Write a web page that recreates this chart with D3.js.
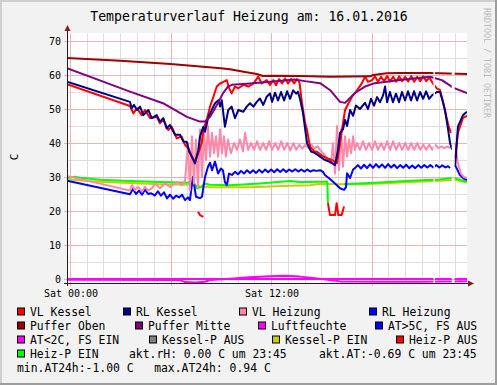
<!DOCTYPE html>
<html><head><meta charset="utf-8">
<script src="https://d3js.org/d3.v7.min.js"></script>
<style>body{margin:0;background:#fff}svg{display:block}text{font-family:"DejaVu Sans Mono",monospace}</style>
</head><body><svg id="c" width="497" height="385"></svg>
<script>
// ---------------- data ----------------
const title = "Temperaturverlauf Heizung am: 16.01.2016";
const yLabel = "C";
const yTicks = [0, 10, 20, 30, 40, 50, 60, 70];
const yMinorTicks = [5, 15, 25, 35, 45, 55, 65];
const xTickHours = [0, 12];           // labelled ticks (hours after Sat 00:00)
const xTickLabels = ["Sat 00:00", "Sat 12:00"];
const gapHours = [[21.70, 21.79], [22.79, 22.96]];

const vlKessel = [[-0.18,57.3],[3.58,50.9],[3.78,48.7],[4.0,50.2],[4.28,48.2],[4.48,49.7],[4.78,47.3],[5.18,47.7],[5.37,45.8],[5.57,46.8],[5.87,43.8],[6.07,44.8],[6.37,41.4],[6.67,41.9],[6.87,39.4],[7.07,38.4],[7.27,36],[7.46,34.5],[7.66,37],[7.86,39.9],[7.96,43.8],[8.16,46.8],[8.36,50.7],[8.56,53.6],[8.76,56.6],[8.96,57.5],[9.16,58],[9.36,58.5],[9.46,56.6],[9.65,54.6],[9.85,56.6],[10.05,56.1],[10.35,57.1],[10.65,56.6],[10.95,57.5],[11.24,59.5],[11.44,57.5],[11.74,58.5],[11.94,57.1],[12.14,58.5],[12.3,57],[12.48,58.8],[12.66,57.5],[12.84,59],[13.02,57.5],[13.2,58.8],[13.38,57.5],[13.56,58.8],[13.7,57.8],[13.85,51.8],[14.03,46],[14.15,43.8],[14.33,38.9],[14.57,37.6],[14.75,37.4],[15.05,36.3],[15.34,35.5],[15.64,35],[15.94,34.1],[16.06,38],[16.24,44],[16.42,49.7],[16.66,52],[16.84,53.6],[17.13,55.5],[17.43,57.6],[17.61,59.5],[17.79,58],[18.03,58.5],[18.21,59.6],[18.39,58],[18.57,59.5],[18.75,58.2],[18.93,59.7],[19.11,58.1],[19.29,59.5],[19.47,58],[19.65,59.6],[19.83,58.2],[20.01,59.5],[20.19,58.1],[20.37,59.7],[20.55,58],[20.73,59.5],[20.91,58.2],[21.09,59.6],[21.27,58.2],[21.45,59.3],[21.67,57.5],[21.91,56],[22.09,55.6],[22.27,52],[22.45,48],[22.63,44.5],[22.75,43],[22.85,null],[22.99,35.5],[23.16,43],[23.46,47.4],[23.70,48]];

const rlKessel = [[-0.18,58],[3.58,52.1],[3.68,50.2],[3.82,51.2],[4.0,49.7],[4.18,50.7],[4.38,48.2],[4.68,49.7],[4.88,47.3],[5.18,48.2],[5.37,46.3],[5.57,47.3],[5.77,44.3],[5.97,45.3],[6.27,42.4],[6.57,42.4],[6.77,40.4],[6.97,40.4],[7.12,37.4],[7.32,35.5],[7.46,34],[7.66,37.9],[7.76,41.9],[7.96,44.8],[8.06,43.3],[8.26,47.7],[8.46,49.7],[8.66,51.7],[8.86,52.6],[8.96,50.7],[9.06,52.6],[9.25,44.8],[9.45,49.7],[9.65,50.7],[9.85,47.3],[10.05,49.7],[10.35,49.2],[10.55,50.7],[10.75,51.7],[10.95,50.7],[11.15,52.1],[11.34,53.1],[11.54,51.2],[11.74,53.6],[11.94,54.6],[12.06,52.1],[12.24,54.8],[12.42,52.5],[12.60,55],[12.78,52.5],[12.96,55.2],[13.14,53],[13.32,55.5],[13.50,54.5],[13.61,55.1],[13.73,53],[13.91,48.8],[14.15,40],[14.39,37.5],[14.63,37],[14.93,36],[15.22,35],[15.52,34.5],[15.82,33.5],[16.0,38],[16.12,43],[16.30,44],[16.42,46.8],[16.54,45],[16.72,49.7],[16.90,48],[17.07,51],[17.31,50],[17.61,51.8],[17.79,50],[17.97,53],[18.15,51],[18.33,53.5],[18.51,52],[18.69,54],[18.81,56.6],[18.93,52],[19.1,55],[19.28,52],[19.46,54.5],[19.64,52],[19.82,55],[20.0,52.5],[20.18,55.2],[20.36,52.5],[20.54,55.2],[20.72,52.5],[20.9,55],[21.08,53],[21.26,55.2],[21.44,53],[21.61,54],[21.91,55],[22.09,55.1],[22.27,52],[22.39,49.7],[22.57,44],[22.69,40],[22.81,38],[22.9,null],[22.99,33],[23.16,44.8],[23.46,48.2],[23.70,49.2]];

const vlHeizung = [[-0.18,30.3],[3.58,26.0],[3.7,27.6],[3.88,26.2],[4.06,27.1],[4.3,25.7],[4.48,27.1],[4.66,26.0],[4.9,26.7],[5.07,28.1],[5.37,26.7],[5.67,28.1],[5.97,27.1],[6.39,28.6],[6.69,27.6],[6.87,29],[7.04,40],[7.16,26],[7.28,42],[7.4,28],[7.52,41],[7.64,27],[7.76,44],[7.88,30],[8.0,43],[8.12,35],[8.24,45],[8.36,36],[8.48,43],[8.6,37],[8.72,42],[8.84,36],[8.96,44],[9.07,37],[9.19,42],[9.31,36],[9.43,41],[9.61,37],[9.79,40],[9.97,38],[10.15,41],[10.33,37.5],[10.45,43],[10.63,38],[10.81,40],[10.99,38],[11.17,40.5],[11.35,38],[11.53,40],[11.71,38],[11.89,40.5],[12.07,38],[12.25,40],[12.43,38],[12.61,40.5],[12.79,38],[12.97,40],[13.15,37.8],[13.33,40],[13.51,38],[13.69,39.5],[13.87,38.3],[14.05,39.5],[14.23,38.5],[14.41,39.5],[14.59,38.5],[14.77,39],[14.93,38],[15.1,37],[15.28,36],[15.46,34.5],[15.58,34],[15.7,40],[15.82,31],[15.94,45],[16.06,32],[16.18,44],[16.3,33],[16.42,42],[16.54,36],[16.66,41],[16.78,37],[16.9,42],[17.01,38],[17.13,40],[17.31,38],[17.49,40.5],[17.67,38],[17.85,40],[18.03,38],[18.21,40.5],[18.39,38],[18.57,40],[18.75,38],[18.93,40.5],[19.11,38],[19.29,40.5],[19.47,38],[19.65,40],[19.83,38],[20.01,40],[20.19,38],[20.37,40],[20.55,38],[20.73,40],[20.91,38],[21.09,39.5],[21.27,38],[21.45,39.5],[21.63,38],[21.81,39.5],[21.99,38.5],[22.17,39],[22.35,38.5],[22.53,39],[22.69,38.5],[22.85,null],[22.99,40],[23.16,34],[23.34,31],[23.52,30],[23.70,29.7]];

const rlHeizung = [[-0.18,28.9],[3.58,24.9],[3.76,26.5],[3.94,25],[4.12,26],[4.3,24.8],[4.48,26.3],[4.66,25],[4.84,25.2],[5.07,24.6],[5.25,25.8],[5.43,24.5],[5.61,25.5],[5.79,23.7],[5.97,24.8],[6.15,23.6],[6.33,24.5],[6.51,24],[6.69,24.8],[6.87,23.2],[7.04,24],[7.16,23.2],[7.34,30.1],[7.52,24.2],[7.76,23.8],[7.88,24.2],[8.06,30],[8.24,33],[8.36,34.2],[8.48,32],[8.66,34.5],[8.84,31],[9.01,32.5],[9.13,32],[9.25,28.5],[9.37,27.6],[9.49,31],[9.67,30.6],[9.85,31.5],[10.03,30.8],[10.21,31.8],[10.39,31],[10.57,32],[10.75,31.2],[10.93,32],[11.11,31.2],[11.29,32.1],[11.47,31.3],[11.65,32.2],[11.83,31.4],[12.01,32.2],[12.19,31.4],[12.37,32.3],[12.55,31.5],[12.73,32.3],[12.91,31.5],[13.09,32.2],[13.27,31.6],[13.45,32.3],[13.63,31.6],[13.81,32.2],[13.99,31.6],[14.17,32.2],[14.35,31.6],[14.53,32],[14.71,31.8],[14.93,32],[15.1,31.5],[15.22,30.6],[15.52,29.4],[15.82,28.1],[16.12,26.7],[16.36,26.2],[16.48,27],[16.54,31.1],[16.72,29.7],[16.9,32.2],[17.01,32.6],[17.19,33.5],[17.37,32.5],[17.55,33.6],[17.73,32.6],[17.91,33.7],[18.09,32.7],[18.27,33.8],[18.45,32.8],[18.63,33.7],[18.81,32.7],[18.99,33.8],[19.17,32.8],[19.35,33.6],[19.53,32.6],[19.71,33.5],[19.89,32.7],[20.07,33.6],[20.25,32.6],[20.43,33.4],[20.61,32.6],[20.79,33.5],[20.97,32.7],[21.15,33.5],[21.33,32.8],[21.51,33.5],[21.69,32.8],[21.87,33.5],[22.05,32.8],[22.23,33.4],[22.41,32.8],[22.57,33.2],[22.69,32.6],[22.85,null],[22.99,33.5],[23.28,30.6],[23.52,29.5],[23.70,29.1]];

const pufferOben = [[-0.18,65.0],[3.0,64.2],[6.0,63.2],[9.0,62.0],[9.55,61.7],[10.45,60.9],[11.15,60.3],[11.52,59.7],[11.94,59.8],[13.73,59.7],[15.52,59.5],[17.91,59.6],[18.1,60.0],[18.9,60.5],[19.7,60.6],[21.49,60.6],[23.7,60.3]];

const pufferMitte = [[-0.18,62],[3.58,55.1],[5.55,51.7],[6.98,47.7],[7.76,46.3],[8.06,46.3],[8.36,47.7],[8.54,49.2],[8.84,51.8],[9.13,54.6],[9.43,56.6],[9.67,57.1],[10.75,57.5],[11.94,58.0],[13.4,58.7],[14.03,58.2],[14.93,57.6],[15.52,55.6],[16.12,52.1],[16.42,51.8],[17.01,54.7],[17.61,56.6],[18.2,57.6],[19.7,58.5],[21.49,59.5],[22.2,58.5],[22.9,56.2],[23.7,54.7]];

const heizPEin = [[-0.18,29.7],[0.3,30.1],[0.6,29.8],[1.79,29.2],[3.58,28.8],[5.37,28.5],[7.16,28.3],[7.4,28.3],[7.58,26.7],[7.88,27.1],[7.99,28.1],[8.36,27.7],[9.55,27.6],[11.34,28.1],[13.13,28.8],[13.73,28.5],[14.93,28.6],[15.36,28.6],[15.40,22.3],[15.9,null],[16.36,27.9],[18.51,28.4],[20.3,28.9],[22.09,29.3],[22.69,29.6],[22.99,29.6],[23.28,29.2],[23.7,28.6]];

const heizPAus = [[7.64,19.8],[7.76,18.8],[7.96,18.3],[11,null],[15.40,22.3],[15.52,18.8],[15.82,18.8],[15.92,22.3],[16.02,18.8],[16.22,18.8],[16.36,21.3]];

const kesselPEin = [[-0.18,29.3],[1.79,28.6],[3.58,28.2],[5.37,27.9],[7.16,27.7],[7.76,27.3],[8.36,27.0],[10.75,27.0],[13.13,27.4],[14.33,27.6],[14.93,28.0],[16.12,27.9],[17.31,27.9],[18.51,28.1],[20.3,28.5],[22.09,28.9],[22.99,29.2],[23.28,28.8],[23.7,28.4]];

const luftfeuchte = [[-0.18,0],[23.7,0]];

const aussenTemp = [[-0.18,-0.2],[6.57,-0.3],[6.87,-0.9],[7.46,-1.0],[8.06,-0.8],[8.36,-0.3],[9.55,0.1],[10.75,0.5],[11.94,0.8],[12.84,0.94],[13.73,0.7],[14.63,0.2],[15.52,-0.3],[16.12,-0.7],[18.51,-0.8],[20.9,-0.8],[22.69,-0.7],[23.7,-0.69]];

const legendNames = ["VL Kessel","RL Kessel","VL Heizung","RL Heizung","Puffer Oben","Puffer Mitte","Luftfeuchte","AT>5C, FS AUS","AT<2C, FS EIN","Kessel-P AUS","Kessel-P EIN","Heiz-P AUS","Heiz-P EIN"];
const legendColors = ["#FF0000","#000080","#FF88AA","#0000FF","#A00000","#800080","#FF00FF","#0000FF","#FF00FF","#808080","#CCCC00","#FF0000","#00FF00"];
const infoTexts = ["akt.rH: 0.00 C um 23:45","akt.AT:-0.69 C um 23:45","min.AT24h:-1.00 C   max.AT24h: 0.94 C"];

// ---------------- layout ----------------
const W = 497, H = 385;
const L = 67, R = 467, T = 33, B = 283;
const T0 = Date.UTC(2016, 0, 16);
const toDate = h => new Date(T0 + h * 3600e3);

const svg = d3.select("#c");
const x = d3.scaleUtc().domain([toDate(-0.179), toDate(23.701)]).range([L, R]);
const y = d3.scaleLinear().domain([0, 70]).range([279, 41]);

// background & frame
svg.append("rect").attr("width", W).attr("height", H).attr("fill", "#F2F2F2");
svg.append("rect").attr("x",0).attr("y",0).attr("width",W).attr("height",2).attr("fill","#CFCFCF");
svg.append("rect").attr("x",0).attr("y",0).attr("width",2).attr("height",H).attr("fill","#CFCFCF");
svg.append("rect").attr("x",W-2).attr("y",0).attr("width",2).attr("height",H).attr("fill","#9E9E9E");
svg.append("rect").attr("x",0).attr("y",H-2).attr("width",W).attr("height",2).attr("fill","#9E9E9E");

// canvas
svg.append("rect").attr("x", L).attr("y", T).attr("width", R - L).attr("height", B - T).attr("fill", "#FFFFFF");

// grid
const g = svg.append("g").attr("shape-rendering", "crispEdges");
const hourTicks = x.ticks(d3.utcHour.every(1));
const majorHours = x.ticks(d3.utcHour.every(6));
const isMajor = d => majorHours.some(m => +m === +d);
hourTicks.filter(d => !isMajor(d)).forEach(d => {
  g.append("line").attr("x1", Math.round(x(d)) + 0.5).attr("x2", Math.round(x(d)) + 0.5).attr("y1", T).attr("y2", B).attr("stroke", "#DEDEDE");
});
yMinorTicks.forEach(v => {
  g.append("line").attr("x1", L).attr("x2", R).attr("y1", Math.round(y(v)) + 0.5).attr("y2", Math.round(y(v)) + 0.5).attr("stroke", "#DEDEDE");
});
majorHours.forEach(d => {
  g.append("line").attr("x1", Math.round(x(d)) + 0.5).attr("x2", Math.round(x(d)) + 0.5).attr("y1", T).attr("y2", B + 3).attr("stroke", "#EBB4B4");
});
yTicks.forEach(v => {
  g.append("line").attr("x1", L - 3).attr("x2", R).attr("y1", Math.round(y(v)) + 0.5).attr("y2", Math.round(y(v)) + 0.5).attr("stroke", "#EBB4B4");
});

// clip with data gaps
const defs = svg.append("defs");
const clip = defs.append("clipPath").attr("id", "gapclip");
let prev = L;
gapHours.forEach(([a, b]) => {
  clip.append("rect").attr("x", prev).attr("y", T - 5).attr("width", x(toDate(a)) - prev).attr("height", B - T + 10);
  prev = x(toDate(b));
});
clip.append("rect").attr("x", prev).attr("y", T - 5).attr("width", R - prev).attr("height", B - T + 10);

const line = d3.line().defined(d => d[1] != null).x(d => x(toDate(d[0]))).y(d => y(d[1]));
const series = [
  { data: kesselPEin, color: "#CCCC00" },
  { data: heizPEin, color: "#00FF00" },
  { data: heizPAus, color: "#FF0000" },
  { data: rlHeizung, color: "#0000FF" },
  { data: vlHeizung, color: "#FF88AA" },
  { data: vlKessel, color: "#FF0000" },
  { data: rlKessel, color: "#000080" },
  { data: pufferOben, color: "#A00000" },
  { data: pufferMitte, color: "#800080" },
  { data: luftfeuchte, color: "#FF00FF" },
  { data: aussenTemp, color: "#FF00FF" }
];
const sg = svg.append("g").attr("clip-path", "url(#gapclip)");
series.forEach(s => {
  sg.append("path").datum(s.data).attr("d", line).attr("fill", "none")
    .attr("stroke", s.color).attr("stroke-width", 2).attr("stroke-linejoin", "round");
});

// axes
svg.append("line").attr("x1", L - 3).attr("x2", R + 2).attr("y1", B + 0.5).attr("y2", B + 0.5).attr("stroke", "#1F1F1F").attr("shape-rendering", "crispEdges");
svg.append("line").attr("x1", L + 0.5).attr("x2", L + 0.5).attr("y1", B + 3).attr("y2", T - 2).attr("stroke", "#1F1F1F").attr("shape-rendering", "crispEdges");
svg.append("path").attr("d", `M${R+1},${B-2.5}L${R+7},${B+0.5}L${R+1},${B+3.5}Z`).attr("fill", "#7F1F1F");
svg.append("path").attr("d", `M${L-2.5},${T-2}L${L+0.5},${T-8}L${L+3.5},${T-2}Z`).attr("fill", "#7F1F1F");

// tick labels
yTicks.forEach(v => {
  svg.append("text").attr("x", 61).attr("y", y(v)).attr("dy", "0.36em").attr("text-anchor", "end")
    .attr("font-size", 10).attr("fill", "#000").text(v);
});
xTickHours.forEach((h, i) => {
  svg.append("text").attr("x", x(toDate(h)) + 1).attr("y", 297).attr("text-anchor", "middle")
    .attr("font-size", 10).attr("fill", "#000").text(xTickLabels[i]);
});

// title, axis label, watermark
svg.append("text").attr("x", 249).attr("y", 21).attr("text-anchor", "middle").attr("font-size", 13.2).attr("fill", "#000").text(title);
svg.append("text").attr("transform", "translate(18,157) rotate(-90)").attr("text-anchor", "middle")
  .attr("font-size", 11).attr("fill", "#000").text(yLabel);
svg.append("text").attr("transform", "translate(484,8) rotate(90)").attr("text-anchor", "start")
  .attr("font-size", 8.3).attr("fill", "#BBBBBB").text("RRDTOOL / TOBI OETIKER");

// legend
const legendTextX = [30,136,252,382, 30,148,271,388, 30,162,285,409, 30];
const legendRow =   [0,0,0,0, 1,1,1,1, 2,2,2,2, 3];
const rowBase = r => 315.5 + r * 14;
legendNames.forEach((n, i) => {
  const tx = legendTextX[i], by = rowBase(legendRow[i]);
  svg.append("rect").attr("x", tx - 12.5).attr("y", by - 7.5).attr("width", 7).attr("height", 7)
    .attr("fill", legendColors[i]).attr("stroke", "#000").attr("stroke-width", 1);
  svg.append("text").attr("x", tx).attr("y", by).attr("font-size", 11.4).attr("fill", "#000").text(n);
});
const infoX = [129, 319, 17], infoRow = [3, 3, 4];
infoTexts.forEach((t, i) => {
  svg.append("text").attr("x", infoX[i]).attr("y", rowBase(infoRow[i])).attr("font-size", 11.4)
    .attr("fill", "#000").attr("xml:space", "preserve").style("white-space", "pre").text(t);
});
</script></body></html>
